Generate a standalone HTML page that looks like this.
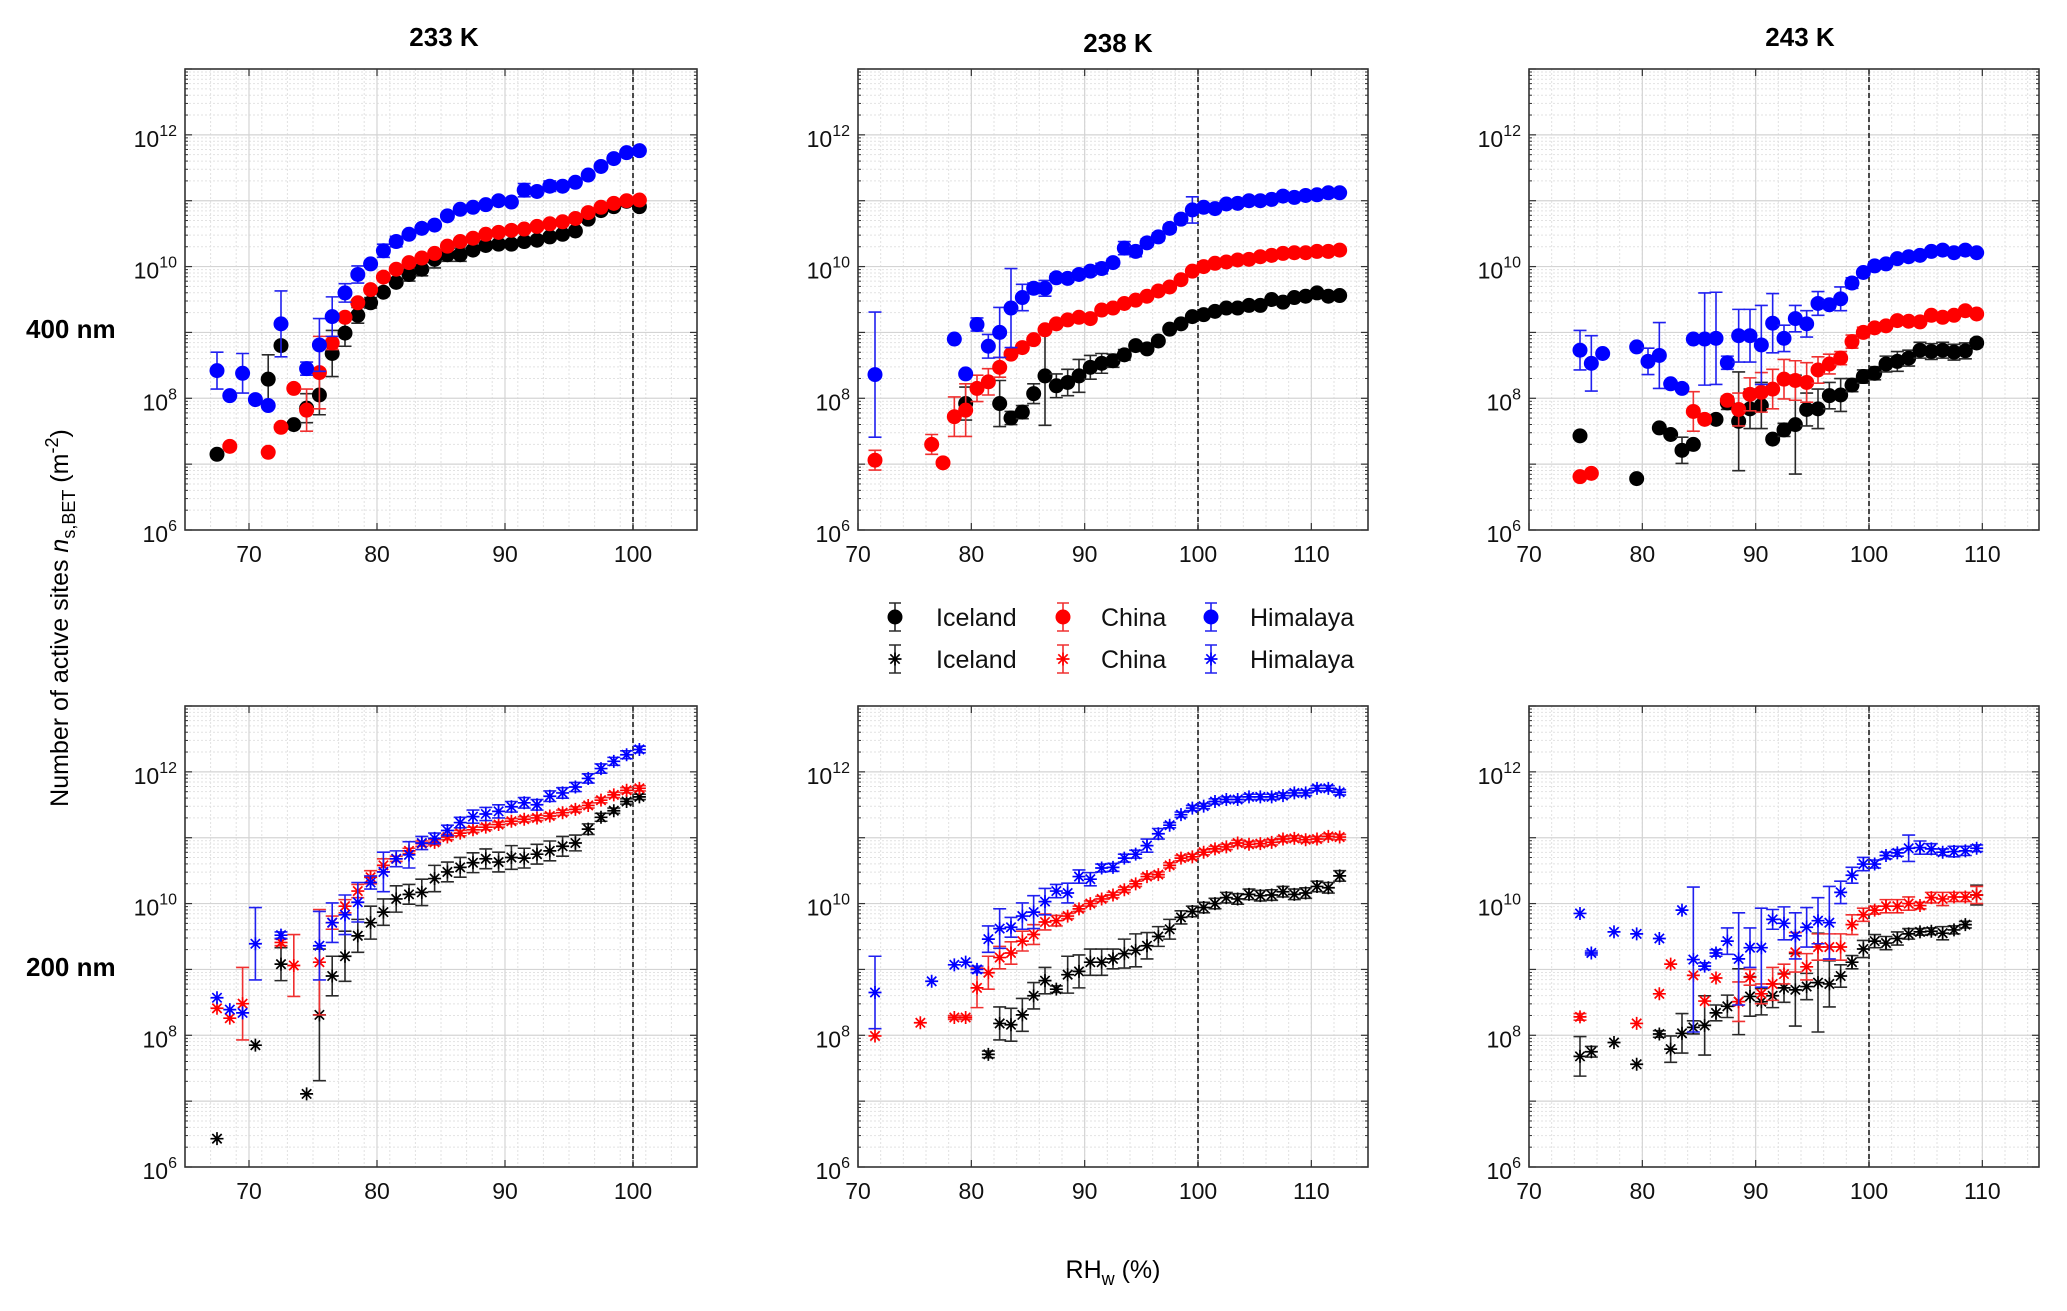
<!DOCTYPE html>
<html><head><meta charset="utf-8"><style>
html,body{margin:0;padding:0;background:#fff}
svg{display:block;font-family:"Liberation Sans",Arial,sans-serif}
</style></head><body>
<svg id="chart" width="2067" height="1311" viewBox="0 0 2067 1311" xmlns="http://www.w3.org/2000/svg">
<rect width="2067" height="1311" fill="#fff"/>
<text x="444" y="46" font-size="26" font-weight="bold" text-anchor="middle">233 K</text>
<text x="1118" y="52" font-size="26" font-weight="bold" text-anchor="middle">238 K</text>
<text x="1800" y="46" font-size="26" font-weight="bold" text-anchor="middle">243 K</text>
<text x="26" y="338" font-size="26" font-weight="bold">400 nm</text>
<text x="26" y="976" font-size="26" font-weight="bold">200 nm</text>
<text transform="translate(68,618) rotate(-90)" font-size="25" text-anchor="middle">Number of active sites <tspan font-style="italic">n</tspan><tspan font-size="18" dy="7">s,BET</tspan><tspan dy="-7"> (m</tspan><tspan font-size="18" dy="-10">-2</tspan><tspan dy="10">)</tspan></text>
<text x="1113" y="1278" font-size="25" text-anchor="middle">RH<tspan font-size="18" dy="7">w</tspan><tspan dy="-7"> (%)</tspan></text>
<g id="legend"></g>
<g id="panels"></g>
</svg>
<script>
// ---- Data (values are log10 of n_s,BET; E = error half-width in decades) ----
const P1_ICE_X=[67.5,71.5,72.5,73.5,74.5,75.5,76.5,77.5,78.5,79.5,80.5,81.5,82.5,83.5,84.5,85.5,86.5,87.5,88.5,89.5,90.5,91.5,92.5,93.5,94.5,95.5,96.5,97.5,98.5,99.5,100.5];
const P1_ICE_Y=[7.15,8.29,8.8,7.6,7.85,8.05,8.68,8.99,9.26,9.45,9.61,9.76,9.88,9.96,10.11,10.18,10.18,10.25,10.32,10.34,10.34,10.38,10.4,10.45,10.49,10.54,10.72,10.85,10.91,10.99,10.91];
const P1_ICE_E=[0,0.37,0,0,0.22,0.3,0.35,0.2,0.12,0.08,0.05,0.05,0.1,0.1,0.13,0.1,0.1,0.05];
const P1_CHN_X=[68.5,71.5,72.5,73.5,74.5,75.5,76.5,77.5,78.5,79.5,80.5,81.5,82.5,83.5,84.5,85.5,86.5,87.5,88.5,89.5,90.5,91.5,92.5,93.5,94.5,95.5,96.5,97.5,98.5,99.5,100.5];
const P1_CHN_Y=[7.27,7.18,7.56,8.15,7.82,8.39,8.84,9.23,9.45,9.65,9.84,9.96,10.06,10.13,10.2,10.31,10.38,10.43,10.49,10.52,10.55,10.57,10.61,10.65,10.68,10.73,10.82,10.9,10.96,11.0,11.01];
const P1_CHN_E=[0,0,0,0,0.32,0.55,0.1];
const P1_HIM_X=[67.5,68.5,69.5,70.5,71.5,72.5,74.5,75.5,76.5,77.5,78.5,79.5,80.5,81.5,82.5,83.5,84.5,85.5,86.5,87.5,88.5,89.5,90.5,91.5,92.5,93.5,94.5,95.5,96.5,97.5,98.5,99.5,100.5];
const P1_HIM_Y=[8.42,8.04,8.38,7.98,7.89,9.13,8.45,8.81,9.24,9.6,9.88,10.04,10.24,10.38,10.49,10.58,10.63,10.77,10.87,10.9,10.94,11.0,10.98,11.16,11.14,11.22,11.22,11.28,11.39,11.52,11.64,11.73,11.76];
const P1_HIM_E=[0.28,0,0.3,0,0,0.5,0.1,0.4,0.3,0.14,0.13,0.05,0.1,0.08,0.04,0.04,0.04,0.04,0.04,0.04,0.04,0.04,0.04,0.1,0.06,0.08];

const P2_ICE_X=[79.5,82.5,83.5,84.5,85.5,86.5,87.5,88.5,89.5,90.5,91.5,92.5,93.5,94.5,95.5,96.5,97.5,98.5,99.5,100.5,101.5,102.5,103.5,104.5,105.5,106.5,107.5,108.5,109.5,110.5,111.5,112.5];
const P2_ICE_Y=[7.92,7.92,7.7,7.79,8.07,8.34,8.19,8.24,8.34,8.47,8.53,8.57,8.66,8.8,8.75,8.87,9.05,9.13,9.24,9.27,9.32,9.37,9.37,9.41,9.41,9.5,9.46,9.53,9.55,9.6,9.55,9.56];
const P2_ICE_E=[0.25,0.35,0.1,0.1,0.15,0.75,0.18,0.2,0.25,0.18,0.15,0.1,0.08];
const P2_CHN_X=[71.5,76.5,77.5,78.5,79.5,80.5,81.5,82.5,83.5,84.5,85.5,86.5,87.5,88.5,89.5,90.5,91.5,92.5,93.5,94.5,95.5,96.5,97.5,98.5,99.5,100.5,101.5,102.5,103.5,104.5,105.5,106.5,107.5,108.5,109.5,110.5,111.5,112.5];
const P2_CHN_Y=[7.06,7.3,7.02,7.72,7.82,8.15,8.25,8.47,8.67,8.77,8.89,9.04,9.13,9.19,9.23,9.21,9.34,9.37,9.44,9.49,9.55,9.63,9.69,9.8,9.93,10.0,10.05,10.07,10.1,10.11,10.15,10.17,10.2,10.21,10.21,10.23,10.23,10.25];
const P2_CHN_E=[0.15,0.15,0,0.3,0.4,0.2,0.2,0.15];
const P2_HIM_X=[71.5,78.5,79.5,80.5,81.5,82.5,83.5,84.5,85.5,86.5,87.5,88.5,89.5,90.5,91.5,92.5,93.5,94.5,95.5,96.5,97.5,98.5,99.5,100.5,101.5,102.5,103.5,104.5,105.5,106.5,107.5,108.5,109.5,110.5,111.5,112.5];
const P2_HIM_Y=[8.36,8.9,8.37,9.12,8.79,9.0,9.37,9.53,9.67,9.67,9.83,9.82,9.88,9.93,9.97,10.06,10.28,10.23,10.36,10.45,10.58,10.72,10.86,10.9,10.88,10.95,10.96,11.0,11.0,11.02,11.07,11.05,11.08,11.09,11.12,11.12];
const P2_HIM_E=[0.95,0,0,0.1,0.18,0.38,0.6,0.2,0.08,0.12,0.06,0.06,0.06,0.06,0.08,0.06,0.1,0.08,0.06,0.06,0.06,0.06,0.2];

const P3_ICE_X=[74.5,79.5,81.5,82.5,83.5,84.5,86.5,87.5,88.5,89.5,90.5,91.5,92.5,93.5,94.5,95.5,96.5,97.5,98.5,99.5,100.5,101.5,102.5,103.5,104.5,105.5,106.5,107.5,108.5,109.5];
const P3_ICE_Y=[7.43,6.78,7.55,7.45,7.21,7.3,7.68,7.93,7.65,7.84,7.89,7.38,7.52,7.6,7.83,7.84,8.04,8.05,8.2,8.33,8.38,8.52,8.56,8.61,8.73,8.71,8.73,8.7,8.72,8.84];
const P3_ICE_E=[0,0,0,0,0.2,0.05,0.05,0.1,0.75,0.3,0.35,0.05,0.1,0.75,0.25,0.3,0.2,0.25,0.1,0.1,0.1,0.12,0.15,0.12,0.12,0.12,0.12,0.12,0.12,0.06];
const P3_CHN_X=[74.5,75.5,84.5,85.5,87.5,88.5,89.5,90.5,91.5,92.5,93.5,94.5,95.5,96.5,97.5,98.5,99.5,100.5,101.5,102.5,103.5,104.5,105.5,106.5,107.5,108.5,109.5];
const P3_CHN_Y=[6.81,6.86,7.8,7.68,7.97,7.83,8.06,8.09,8.14,8.29,8.27,8.24,8.43,8.52,8.61,8.86,9.0,9.07,9.1,9.18,9.17,9.16,9.26,9.23,9.26,9.33,9.28];
const P3_CHN_E=[0,0,0.3,0.05,0.05,0.25,0.25,0.3,0.3,0.3,0.3,0.3,0.2,0.15,0.1,0.1,0.08];
const P3_HIM_X=[74.5,75.5,76.5,79.5,80.5,81.5,82.5,83.5,84.5,85.5,86.5,87.5,88.5,89.5,90.5,91.5,92.5,93.5,94.5,95.5,96.5,97.5,98.5,99.5,100.5,101.5,102.5,103.5,104.5,105.5,106.5,107.5,108.5,109.5];
const P3_HIM_Y=[8.73,8.53,8.68,8.78,8.56,8.65,8.22,8.15,8.9,8.9,8.91,8.54,8.95,8.95,8.81,9.14,8.91,9.21,9.13,9.44,9.42,9.51,9.75,9.91,10.01,10.04,10.12,10.15,10.17,10.23,10.25,10.21,10.25,10.21];
const P3_HIM_E=[0.3,0.42,0,0,0.2,0.5,0,0,0.05,0.7,0.7,0.1,0.4,0.4,0.6,0.45,0.2,0.2,0.2,0.18,0.06,0.18,0.08];

const P4_ICE_X=[67.5,70.5,72.5,74.5,75.5,76.5,77.5,78.5,79.5,80.5,81.5,82.5,83.5,84.5,85.5,86.5,87.5,88.5,89.5,90.5,91.5,92.5,93.5,94.5,95.5,96.5,97.5,98.5,99.5,100.5];
const P4_ICE_Y=[6.43,7.85,9.08,7.11,8.31,8.9,9.2,9.51,9.71,9.87,10.07,10.14,10.17,10.38,10.48,10.55,10.62,10.68,10.63,10.7,10.69,10.75,10.8,10.87,10.92,11.13,11.31,11.41,11.55,11.62];
const P4_ICE_E=[0,0,0.25,0,1.0,0.3,0.38,0.25,0.25,0.2,0.2,0.15,0.2,0.2,0.15,0.15,0.15,0.15,0.15,0.18,0.15,0.15,0.15,0.15,0.12,0.08,0.06];
const P4_CHN_X=[67.5,68.5,69.5,72.5,73.5,75.5,76.5,77.5,78.5,79.5,80.5,81.5,82.5,83.5,84.5,85.5,86.5,87.5,88.5,89.5,90.5,91.5,92.5,93.5,94.5,95.5,96.5,97.5,98.5,99.5,100.5];
const P4_CHN_Y=[8.41,8.26,8.48,9.41,9.06,9.11,9.71,9.96,10.19,10.4,10.58,10.68,10.8,10.91,10.93,11.01,11.07,11.12,11.16,11.2,11.25,11.28,11.3,11.33,11.38,11.43,11.49,11.57,11.65,11.72,11.75];
const P4_CHN_E=[0,0,0.55,0.05,0.47,0.8,0.1,0.1,0.1,0.1,0.1];
const P4_HIM_X=[67.5,68.5,69.5,70.5,72.5,75.5,76.5,77.5,78.5,79.5,80.5,81.5,82.5,83.5,84.5,85.5,86.5,87.5,88.5,89.5,90.5,91.5,92.5,93.5,94.5,95.5,96.5,97.5,98.5,99.5,100.5];
const P4_HIM_Y=[8.57,8.39,8.34,9.39,9.52,9.36,9.71,9.83,10.02,10.32,10.48,10.68,10.74,10.92,10.99,11.11,11.23,11.32,11.36,11.4,11.47,11.53,11.5,11.63,11.68,11.77,11.9,12.05,12.16,12.26,12.34];
const P4_HIM_E=[0,0,0,0.55,0.05,0.52,0.3,0.3,0.3,0.1,0.3,0.12,0.2,0.1,0.08,0.08,0.08,0.1,0.1,0.1,0.08,0.08,0.08,0.08,0.08,0.07,0.07,0.07,0.06,0.06,0.05];

const P5_ICE_X=[81.5,82.5,83.5,84.5,85.5,86.5,87.5,88.5,89.5,90.5,91.5,92.5,93.5,94.5,95.5,96.5,97.5,98.5,99.5,100.5,101.5,102.5,103.5,104.5,105.5,106.5,107.5,108.5,109.5,110.5,111.5,112.5];
const P5_ICE_Y=[7.71,8.18,8.16,8.31,8.6,8.83,8.7,8.92,8.97,9.11,9.11,9.16,9.24,9.29,9.36,9.5,9.61,9.79,9.88,9.94,10.0,10.09,10.07,10.14,10.12,10.13,10.18,10.14,10.16,10.26,10.24,10.42];
const P5_ICE_E=[0.05,0.25,0.25,0.25,0.2,0.2,0.05,0.28,0.25,0.2,0.2,0.15,0.22,0.25,0.2,0.15,0.15,0.1,0.08,0.08,0.08,0.08,0.08,0.08,0.08,0.08,0.08,0.08,0.08,0.08,0.08,0.08];
const P5_CHN_X=[71.5,75.5,78.5,79.5,80.5,81.5,82.5,83.5,84.5,85.5,86.5,87.5,88.5,89.5,90.5,91.5,92.5,93.5,94.5,95.5,96.5,97.5,98.5,99.5,100.5,101.5,102.5,103.5,104.5,105.5,106.5,107.5,108.5,109.5,110.5,111.5,112.5];
const P5_CHN_Y=[7.99,8.19,8.27,8.27,8.72,8.95,9.18,9.25,9.43,9.53,9.72,9.74,9.81,9.92,10.0,10.07,10.13,10.21,10.3,10.41,10.44,10.58,10.69,10.71,10.78,10.83,10.86,10.92,10.9,10.91,10.93,10.98,10.99,10.97,10.98,11.02,11.01];
const P5_CHN_E=[0,0,0.03,0.03,0.3,0.25,0.17,0.17,0.15,0.15,0.12,0.08];
const P5_HIM_X=[71.5,76.5,78.5,79.5,80.5,81.5,82.5,83.5,84.5,85.5,86.5,87.5,88.5,89.5,90.5,91.5,92.5,93.5,94.5,95.5,96.5,97.5,98.5,99.5,100.5,101.5,102.5,103.5,104.5,105.5,106.5,107.5,108.5,109.5,110.5,111.5,112.5];
const P5_HIM_Y=[8.65,8.82,9.07,9.11,9.0,9.46,9.62,9.64,9.81,9.87,10.03,10.19,10.16,10.41,10.37,10.54,10.55,10.69,10.75,10.88,11.06,11.19,11.35,11.45,11.48,11.55,11.58,11.58,11.62,11.62,11.62,11.64,11.68,11.68,11.75,11.75,11.69];
const P5_HIM_E=[0.55,0,0,0,0.05,0.2,0.3,0.15,0.2,0.25,0.2,0.1,0.15,0.1,0.1,0.06,0.06,0.06,0.06,0.1,0.08];

const P6_ICE_X=[74.5,75.5,77.5,79.5,81.5,82.5,83.5,84.5,85.5,86.5,87.5,88.5,89.5,90.5,91.5,92.5,93.5,94.5,95.5,96.5,97.5,98.5,99.5,100.5,101.5,102.5,103.5,104.5,105.5,106.5,107.5,108.5,109.5];
const P6_ICE_Y=[7.68,7.75,7.89,7.56,8.02,7.79,8.03,8.12,8.15,8.34,8.44,8.51,8.59,8.51,8.6,8.72,8.69,8.74,8.8,8.78,8.9,9.11,9.31,9.43,9.4,9.47,9.54,9.57,9.58,9.55,9.6,9.68,10.13];
const P6_ICE_E=[0.3,0.08,0,0,0.05,0.2,0.3,0.1,0.45,0.12,0.17,0.5,0.3,0.2,0.18,0.22,0.55,0.2,0.75,0.35,0.17,0.1,0.13,0.1,0.1,0.1,0.08,0.05,0.05,0.1,0.06,0.05,0.15];
const P6_CHN_X=[74.5,79.5,81.5,82.5,84.5,85.5,86.5,88.5,89.5,90.5,91.5,92.5,93.5,94.5,95.5,96.5,97.5,98.5,99.5,100.5,101.5,102.5,103.5,104.5,105.5,106.5,107.5,108.5,109.5];
const P6_CHN_Y=[8.28,8.18,8.63,9.08,8.91,8.52,8.87,8.51,8.88,8.63,8.78,8.93,9.26,9.04,9.34,9.34,9.34,9.68,9.83,9.9,9.96,9.96,10.0,9.97,10.09,10.07,10.1,10.1,10.13];
const P6_CHN_E=[0.05,0,0,0,0,0,0,0.3,0.12,0.15,0.25,0.15,0.3,0.2,0.2,0.2,0.2,0.15,0.1,0.06,0.1,0.1,0.1,0.05,0.08,0.1,0.07,0.07,0.13];
const P6_HIM_X=[74.5,75.5,77.5,79.5,81.5,83.5,84.5,85.5,86.5,87.5,88.5,89.5,90.5,91.5,92.5,93.5,94.5,95.5,96.5,97.5,98.5,99.5,100.5,101.5,102.5,103.5,104.5,105.5,106.5,107.5,108.5,109.5];
const P6_HIM_Y=[9.85,9.25,9.57,9.54,9.47,9.9,9.15,9.05,9.25,9.43,9.16,9.33,9.33,9.76,9.7,9.51,9.64,9.74,9.71,10.17,10.43,10.6,10.6,10.73,10.77,10.84,10.85,10.83,10.78,10.79,10.8,10.84];
const P6_HIM_E=[0,0.03,0,0,0,0,1.1,0.05,0.05,0.2,0.7,0.3,0.6,0.15,0.25,0.35,0.3,0.35,0.55,0.17,0.12,0.1,0.06,0.05,0.05,0.2,0.1,0.08,0.05,0.08,0.07,0.05];

const X_TICKS_A=[70,80,90,100];
const X_TICKS_B=[70,80,90,100,110];
const Y_TICK_EXP=[6,8,10,12];

// ---- Layout ----
const NS='http://www.w3.org/2000/svg';
const svg=document.getElementById('chart');
const root=document.getElementById('panels');
function mk(tag,attrs,parent){const e=document.createElementNS(NS,tag);for(const k in attrs)e.setAttribute(k,attrs[k]);(parent||root).appendChild(e);return e;}
const COLORS={ice:'#000000',chn:'#ff0000',him:'#0000ff'};
const ERRC={ice:'#2a2a2a',chn:'#f03030',him:'#2020f0'};
const panels=[
 {id:'233k-400nm',box:[185,69,512,461],xr:[65,105],ticks:X_TICKS_A,m:'o',s:[['ice',P1_ICE_X,P1_ICE_Y,P1_ICE_E],['chn',P1_CHN_X,P1_CHN_Y,P1_CHN_E],['him',P1_HIM_X,P1_HIM_Y,P1_HIM_E]]},
 {id:'238k-400nm',box:[858,69,510,461],xr:[70,115],ticks:X_TICKS_B,m:'o',s:[['ice',P2_ICE_X,P2_ICE_Y,P2_ICE_E],['chn',P2_CHN_X,P2_CHN_Y,P2_CHN_E],['him',P2_HIM_X,P2_HIM_Y,P2_HIM_E]]},
 {id:'243k-400nm',box:[1529,69,510,461],xr:[70,115],ticks:X_TICKS_B,m:'o',s:[['ice',P3_ICE_X,P3_ICE_Y,P3_ICE_E],['chn',P3_CHN_X,P3_CHN_Y,P3_CHN_E],['him',P3_HIM_X,P3_HIM_Y,P3_HIM_E]]},
 {id:'233k-200nm',box:[185,706,512,461],xr:[65,105],ticks:X_TICKS_A,m:'*',s:[['ice',P4_ICE_X,P4_ICE_Y,P4_ICE_E],['chn',P4_CHN_X,P4_CHN_Y,P4_CHN_E],['him',P4_HIM_X,P4_HIM_Y,P4_HIM_E]]},
 {id:'238k-200nm',box:[858,706,510,461],xr:[70,115],ticks:X_TICKS_B,m:'*',s:[['ice',P5_ICE_X,P5_ICE_Y,P5_ICE_E],['chn',P5_CHN_X,P5_CHN_Y,P5_CHN_E],['him',P5_HIM_X,P5_HIM_Y,P5_HIM_E]]},
 {id:'243k-200nm',box:[1529,706,510,461],xr:[70,115],ticks:X_TICKS_B,m:'*',s:[['ice',P6_ICE_X,P6_ICE_Y,P6_ICE_E],['chn',P6_CHN_X,P6_CHN_Y,P6_CHN_E],['him',P6_HIM_X,P6_HIM_Y,P6_HIM_E]]}
];
function star(g,cx,cy,r,col){
  const d=`M${cx-r},${cy}H${cx+r}M${cx},${cy-r}V${cy+r}M${cx-r*0.72},${cy-r*0.72}L${cx+r*0.72},${cy+r*0.72}M${cx-r*0.72},${cy+r*0.72}L${cx+r*0.72},${cy-r*0.72}`;
  return mk('path',{d:d,stroke:col,'stroke-width':1.7,fill:'none'},g);
}
panels.forEach(p=>{
  const [L,T,W,H]=p.box;
  const g=mk('g',{});
  
  
  const xs=v=>L+(v-p.xr[0])/(p.xr[1]-p.xr[0])*W;
  const ys=v=>T+(13-v)/7*H;
  const grid=mk('g',{},g);
  
  
  for(let d=6;d<13;d++){for(let k=2;k<10;k++){const y=ys(d+Math.log10(k));mk('line',{x1:L,x2:L+W,y1:y,y2:y,stroke:'#e2e2e2','stroke-width':1,'stroke-dasharray':'2,2'},grid);}}
  for(let v=p.xr[0];v<=p.xr[1];v+=2){const x=xs(v);mk('line',{x1:x,x2:x,y1:T,y2:T+H,stroke:'#e2e2e2','stroke-width':1,'stroke-dasharray':'2,2'},grid);}
  for(let d=7;d<13;d++){const y=ys(d);mk('line',{x1:L,x2:L+W,y1:y,y2:y,stroke:'#d4d4d4','stroke-width':1.2},grid);}
  p.ticks.forEach(v=>{const x=xs(v);mk('line',{x1:x,x2:x,y1:T,y2:T+H,stroke:'#d4d4d4','stroke-width':1.2},grid);});
  const dl=mk('line',{x1:xs(100),x2:xs(100),y1:T,y2:T+H,stroke:'#111','stroke-width':1.5,'stroke-dasharray':'5,3'},g);
  
  
  for(let d=6;d<=13;d++){const y=ys(d);mk('line',{x1:L,x2:L+7,y1:y,y2:y,stroke:'#333','stroke-width':1.2},g);mk('line',{x1:L+W,x2:L+W-7,y1:y,y2:y,stroke:'#333','stroke-width':1.2},g);
    if(d<13){for(let k=2;k<10;k++){const yy=ys(d+Math.log10(k));mk('line',{x1:L,x2:L+3,y1:yy,y2:yy,stroke:'#333','stroke-width':1},g);mk('line',{x1:L+W,x2:L+W-3,y1:yy,y2:yy,stroke:'#333','stroke-width':1},g);}}}
  p.ticks.forEach(v=>{const x=xs(v);mk('line',{x1:x,x2:x,y1:T+H,y2:T+H-7,stroke:'#333','stroke-width':1.2},g);mk('line',{x1:x,x2:x,y1:T,y2:T+7,stroke:'#333','stroke-width':1.2},g);
    const t=mk('text',{x:x,y:T+H+32,'font-size':23,'text-anchor':'middle',fill:'#111'},g);t.textContent=v;
    
    });
  Y_TICK_EXP.forEach(d=>{const y=ys(d);
    const t=mk('text',{x:L-8,y:y+12,'font-size':23,'text-anchor':'end',fill:'#111'},g);
    
    
    const a=mk('tspan',{},t);a.textContent='10';const b=mk('tspan',{'font-size':16,dy:-11},t);b.textContent=String(d);});
  p.s.forEach(([key,X,Y,E])=>{
    const sg=mk('g',{},g);
    
    
    X.forEach((xv,i)=>{
      const cx=xs(xv),cy=ys(Y[i]);const e=(E[i]===undefined)?0.04:E[i];
      if(e>0){const y1=ys(Y[i]+e),y2=ys(Y[i]-e);
        mk('path',{d:`M${cx},${y1}V${y2}M${cx-6.5},${y1}H${cx+6.5}M${cx-6.5},${y2}H${cx+6.5}`,stroke:ERRC[key],'stroke-width':1.6,fill:'none'},sg);}
      let m;
      if(p.m==='o'){m=mk('circle',{cx:cx,cy:cy,r:7.5,fill:COLORS[key]},sg);}
      else{m=star(sg,cx,cy,6.5,COLORS[key]);mk('circle',{cx:cx,cy:cy,r:1.7,fill:COLORS[key]},sg);}
      
      
    });
  });
  const bx=mk('rect',{x:L,y:T,width:W,height:H,fill:'none',stroke:'#333','stroke-width':1.6},g);
  
  
});
const lg=document.getElementById('legend');
const LEG_NAMES=['Iceland','China','Himalaya'];
const LEG_KEYS=['ice','chn','him'];
const LEG_MX=[895,1063,1211], LEG_TX=[936,1101,1250], LEG_Y=[617,659];
LEG_Y.forEach((y,row)=>{LEG_KEYS.forEach((k,i)=>{
  const eg=mk('g',{},lg);
  
  
  const cx=LEG_MX[i];
  mk('path',{d:`M${cx},${y-14}V${y+14}M${cx-6},${y-14}H${cx+6}M${cx-6},${y+14}H${cx+6}`,stroke:ERRC[k],'stroke-width':1.6,fill:'none'},eg);
  if(row===0)mk('circle',{cx:cx,cy:y,r:7.5,fill:COLORS[k]},eg);else{star(eg,cx,y,6.5,COLORS[k]);}
  const t=mk('text',{x:LEG_TX[i],y:y+9,'font-size':25,fill:'#111'},eg);t.textContent=LEG_NAMES[i];
});});
</script>
</body></html>
